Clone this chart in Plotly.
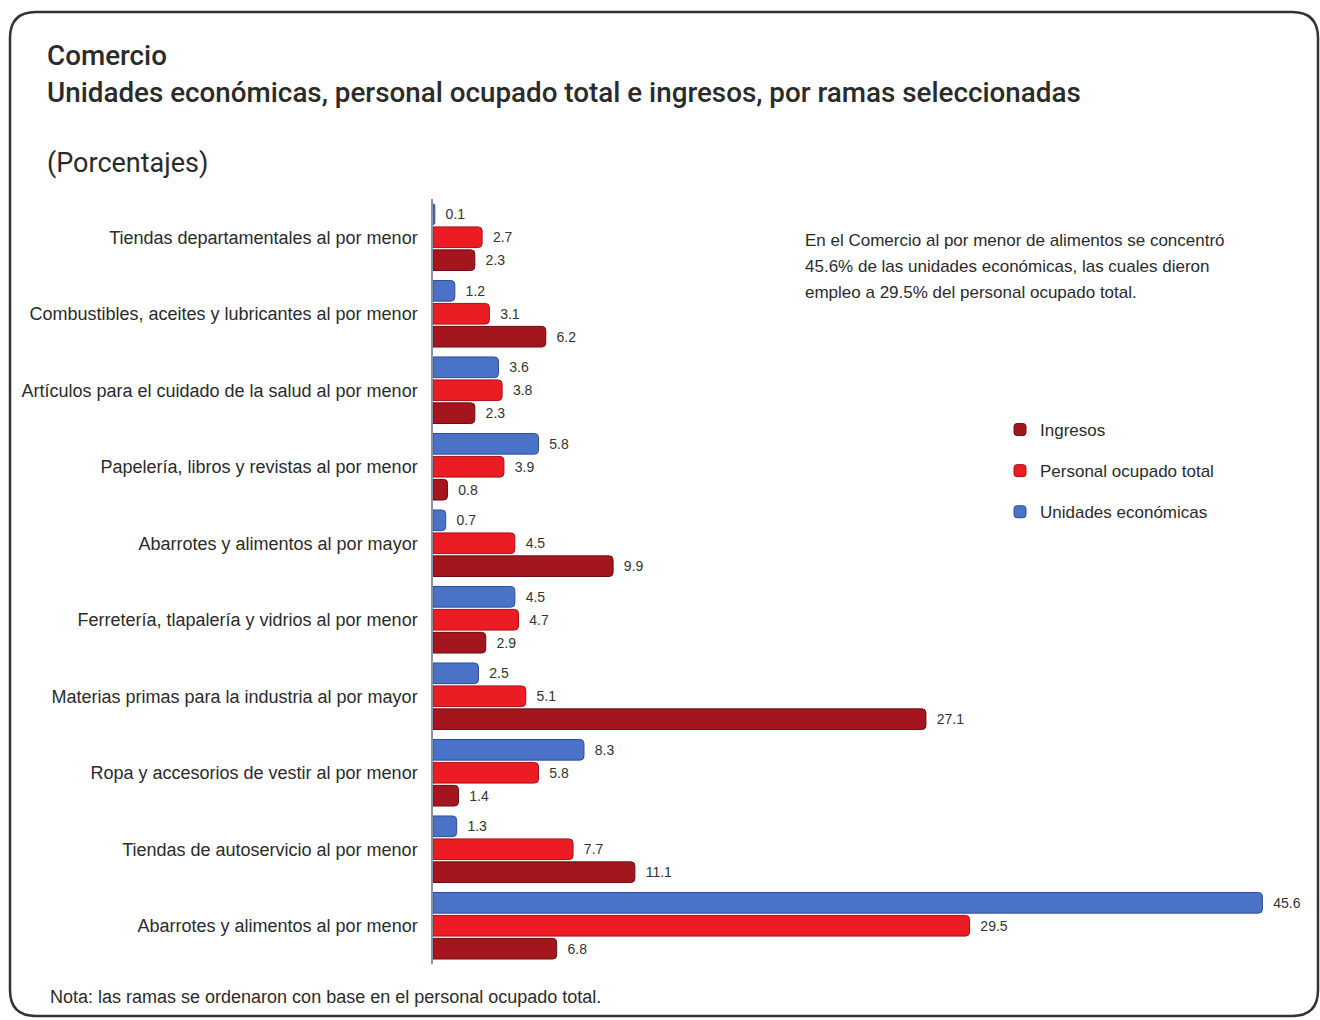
import plotly.graph_objects as go

# Ramas del comercio (de arriba hacia abajo)
ramas = [
    "Tiendas departamentales al por menor",
    "Combustibles, aceites y lubricantes al por menor",
    "Artículos para el cuidado de la salud al por menor",
    "Papelería, libros y revistas al por menor",
    "Abarrotes y alimentos al por mayor",
    "Ferretería, tlapalería y vidrios al por menor",
    "Materias primas para la industria al por mayor",
    "Ropa y accesorios de vestir al por menor",
    "Tiendas de autoservicio al por menor",
    "Abarrotes y alimentos al por menor",
]

# Porcentajes por serie
unidades = [0.1, 1.2, 3.6, 5.8, 0.7, 4.5, 2.5, 8.3, 1.3, 45.6]
personal = [2.7, 3.1, 3.8, 3.9, 4.5, 4.7, 5.1, 5.8, 7.7, 29.5]
ingresos = [2.3, 6.2, 2.3, 0.8, 9.9, 2.9, 27.1, 1.4, 11.1, 6.8]

W, H = 1320, 1020
ML, MR, MT, MB = 433, 23, 199, 56
PW, PH = W - ML - MR, H - MT - MB


def px(x):
    return (x - ML) / PW


def py(y):
    return (H - MB - y) / PH


FONT = "Liberation Sans, Arial, sans-serif"
TITLE_FONT = "Roboto, Liberation Sans, sans-serif"
series = [
    ("Unidades económicas", unidades, "#4a72c6", "#2f4f93", 3),
    ("Personal ocupado total", personal, "#ec1c24", "#a81016", 2),
    ("Ingresos", ingresos, "#a3161d", "#6e0c10", 1),
]

fig = go.Figure()
for name, vals, color, edge, rank in series:
    fig.add_trace(go.Bar(
        y=ramas,
        x=vals,
        name=name,
        orientation="h",
        legendgroup=name,
        legendrank=rank,
        marker=dict(color=color, line=dict(color=edge, width=1), cornerradius=4),
        text=vals,
        texttemplate="  %{x:.1f}",
        textposition="outside",
        textfont=dict(family=FONT, size=14, color="#333333"),
        cliponaxis=False,
    ))

# Marco redondeado alrededor de la lámina
x0, x1, y0, y1, r = 10, 1318, 12, 1016, 26
path = (
    f"M {px(x0)},{py(y1 - r)} L {px(x0)},{py(y0 + r)} "
    f"Q {px(x0)},{py(y0)} {px(x0 + r)},{py(y0)} "
    f"L {px(x1 - r)},{py(y0)} Q {px(x1)},{py(y0)} {px(x1)},{py(y0 + r)} "
    f"L {px(x1)},{py(y1 - r)} Q {px(x1)},{py(y1)} {px(x1 - r)},{py(y1)} "
    f"L {px(x0 + r)},{py(y1)} Q {px(x0)},{py(y1)} {px(x0)},{py(y1 - r)} Z"
)
fig.add_shape(type="path", path=path, xref="paper", yref="paper",
              line=dict(color="#333333", width=2.5), layer="below")

# Títulos y nota
texts = [
    (45, 55, "Comercio", 27.8, TITLE_FONT, 500),
    (45, 92, "Unidades económicas, personal ocupado total e ingresos, por ramas seleccionadas", 27.8, TITLE_FONT, 500),
    (45, 163, "(Porcentajes)", 27, TITLE_FONT, 400),
    (48, 997, "Nota: las ramas se ordenaron con base en el personal ocupado total.", 18, FONT, 400),
]
for x, y, t, s, fam, wt in texts:
    fig.add_annotation(x=px(x), y=py(y), xref="paper", yref="paper", text=t,
                       showarrow=False, xanchor="left", yanchor="middle",
                       font=dict(family=fam, size=s, color="#2b2b2b", weight=wt))

# Texto destacado, una línea por anotación
destacado = [
    "En el Comercio al por menor de alimentos se concentró",
    "45.6% de las unidades económicas, las cuales dieron",
    "empleo a 29.5% del personal ocupado total.",
]
for i, linea in enumerate(destacado):
    fig.add_annotation(
        x=px(803), y=py(240 + 26 * i), xref="paper", yref="paper", showarrow=False,
        xanchor="left", yanchor="middle", text=linea,
        font=dict(family=FONT, size=17, color="#2b2b2b"),
    )

fig.update_layout(
    width=W, height=H,
    margin=dict(l=ML, r=MR, t=MT, b=MB),
    paper_bgcolor="white", plot_bgcolor="white",
    barmode="group", bargap=0.1, bargroupgap=0.1,
    font=dict(family=FONT, color="#2b2b2b"),
    showlegend=True,
    legend=dict(
        x=px(1000), y=py(412), xanchor="left", yanchor="top",
        traceorder="grouped", tracegroupgap=16,
        font=dict(family=FONT, size=17, color="#2b2b2b"),
        bgcolor="rgba(0,0,0,0)",
    ),
    xaxis=dict(visible=False, range=[0, 47.5], fixedrange=True),
    yaxis=dict(
        autorange="reversed", showgrid=False, zeroline=False,
        showline=True, linecolor="#8a93a6", linewidth=1.5,
        ticks="", ticklabelstandoff=10,
        tickfont=dict(family=FONT, size=18, color="#2b2b2b"),
    ),
)

fig.write_html("out.html")
